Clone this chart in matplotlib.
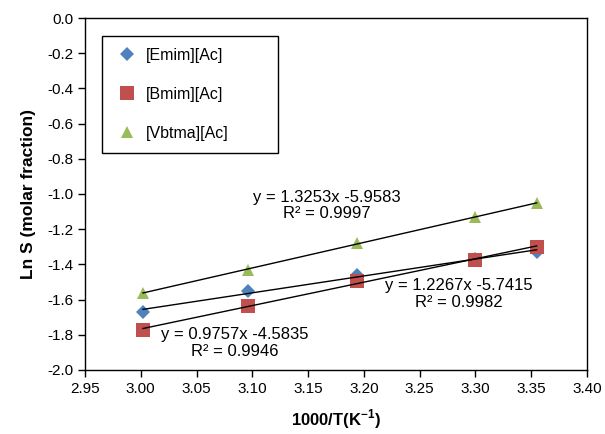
import numpy as np
import matplotlib
matplotlib.use("Agg")
import matplotlib.pyplot as plt

plt.rcParams['font.family'] = ['Liberation Sans', 'DejaVu Sans']
plt.rcParams['axes.unicode_minus'] = False

# 1000/T values (K^-1)
inv_t = [3.002, 3.096, 3.194, 3.300, 3.355]

# Ln S (molar fraction) for each ionic liquid
emim_ac = [-1.669, -1.554, -1.461, -1.368, -1.327]
bmim_ac = [-1.771, -1.639, -1.493, -1.374, -1.299]
vbtma_ac = [-1.560, -1.432, -1.280, -1.128, -1.053]

labels = ["[Emim][Ac]", "[Bmim][Ac]", "[Vbtma][Ac]"]
fit_texts = [
    "y = 0.9757x -4.5835\nR² = 0.9946",
    "y = 1.2267x -5.7415\nR² = 0.9982",
    "y = 1.3253x -5.9583\nR² = 0.9997",
]
fit_text_pos = [(3.084, -1.847), (3.285, -1.568), (3.167, -1.065)]

colors = ["#4F81BD", "#C0504D", "#9BBB59"]
markers = ["D", "s", "^"]
sizes = [7, 10, 9]

fig = plt.figure(figsize=(6.05, 4.34), dpi=100)
ax = fig.add_axes([0.1405, 0.1475, 0.8295, 0.811])

x = np.array(inv_t)
for ys, lab, c, m, s in zip([emim_ac, bmim_ac, vbtma_ac], labels, colors, markers, sizes):
    ax.plot(x, ys, linestyle="none", marker=m, color=c, markersize=s,
            markeredgewidth=0, label=lab, zorder=2)

# linear trendlines
for ys in [emim_ac, bmim_ac, vbtma_ac]:
    k, b = np.polyfit(x, ys, 1)
    xx = np.array([x.min(), x.max()])
    ax.plot(xx, k * xx + b, color="black", linewidth=1.0, zorder=3)

for txt, (tx, ty) in zip(fit_texts, fit_text_pos):
    ax.text(tx, ty, txt, ha="center", va="center", fontsize=12,
            linespacing=1.15, zorder=4)

ax.set_xlim(2.95, 3.40)
ax.set_ylim(-2.0, 0.0)
ax.set_xticks(np.arange(2.95, 3.401, 0.05))
ax.set_yticks(np.arange(-2.0, 0.001, 0.2))
ax.xaxis.set_major_formatter(matplotlib.ticker.FuncFormatter(lambda v, p: f"{v:.2f}"))
ax.yaxis.set_major_formatter(matplotlib.ticker.FuncFormatter(lambda v, p: f"{v + 0.0:.1f}".replace("-0.0", "0.0")))
ax.tick_params(direction="out", length=5, width=1, labelsize=11)
for sp in ax.spines.values():
    sp.set_linewidth(1.0)

ax.set_xlabel("1000/T(K$^{\\mathregular{-1}}$)", fontsize=12, fontweight="bold", labelpad=8)
ax.set_ylabel("Ln S (molar fraction)", fontsize=12.5, fontweight="bold", labelpad=8)

leg = ax.legend(loc="upper left", bbox_to_anchor=(0.033, 0.614, 0.352, 0.335),
                mode="expand", borderaxespad=0, fontsize=11.5, labelspacing=1.5,
                borderpad=0.75, handletextpad=0.3, handlelength=1.7, fancybox=False,
                edgecolor="black", framealpha=1)
leg.get_frame().set_linewidth(1.0)

plt.savefig("out.png", dpi=100)
